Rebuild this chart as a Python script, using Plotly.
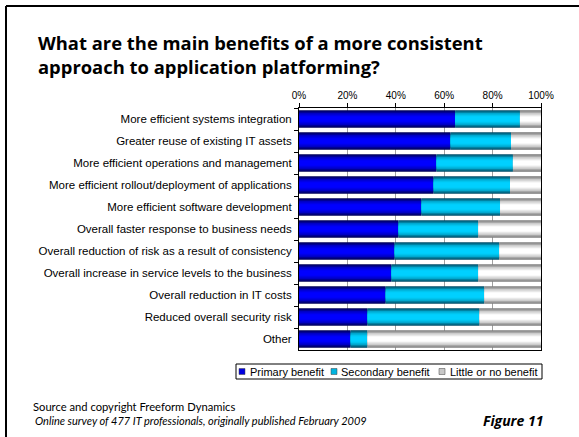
import plotly.graph_objects as go

categories = [
    "More efficient systems integration",
    "Greater reuse of existing IT assets",
    "More efficient operations and management",
    "More efficient rollout/deployment of applications",
    "More efficient software development",
    "Overall faster response to business needs",
    "Overall reduction of risk as a result of consistency",
    "Overall increase in service levels to the business",
    "Overall reduction in IT costs",
    "Reduced overall security risk",
    "Other",
]
primary = [64.5, 62.6, 56.8, 55.6, 50.6, 41.1, 39.5, 38.2, 35.8, 28.3, 21.3]
secondary = [26.8, 25.0, 31.6, 31.6, 32.5, 33.0, 43.3, 35.9, 40.8, 46.3, 7.0]
little = [8.7, 12.4, 11.6, 12.8, 16.9, 25.9, 17.2, 25.9, 23.4, 25.4, 71.7]
series_names = ["Primary benefit", "Secondary benefit", "Little or no benefit"]
tick_vals = [0, 20, 40, 60, 80, 100]

# gradient layers (outer -> inner) per series
grad = [
    ["#00005A", "#000096", "#0000C4", "#0000E8", "#0000FF"],
    ["#004E6A", "#0082A2", "#00A8D0", "#00C4EE", "#00D0FF"],
    ["#808080", "#A8A8A8", "#CCCCCC", "#E8E8E8", "#FFFFFF"],
]
widths = [0.8, 0.68, 0.54, 0.4, 0.24]

W, H = 579, 437
L, R, T, B = 299, 541, 108, 350
def px(x):
    return (x - L) / (R - L)
def py(y):
    return (B - y) / (B - T)

fig = go.Figure()
values = [primary, secondary, little]
bases = [
    [0] * len(categories),
    primary,
    [p + s for p, s in zip(primary, secondary)],
]
for si, (vals, base) in enumerate(zip(values, bases)):
    for li, (w, c) in enumerate(zip(widths, grad[si])):
        fig.add_trace(go.Bar(
            y=categories, x=vals, base=base, orientation="h",
            width=w, marker=dict(color=c, line=dict(width=0)),
            name=series_names[si], showlegend=False,
        ))

fig.update_layout(
    width=W, height=H,
    margin=dict(l=L, r=W - R, t=T, b=H - B, pad=0),
    barmode="overlay",
    paper_bgcolor="white", plot_bgcolor="white",
    font=dict(family="Liberation Sans, Arial", size=11, color="black"),
    xaxis=dict(
        side="top", range=[0, 100], tickvals=tick_vals,
        ticktext=[f"{v}%" for v in tick_vals],
        showgrid=True, gridcolor="#A0A0A0", gridwidth=1,
        showline=True, linecolor="black", linewidth=1, mirror=True,
        ticks="outside", ticklen=4, tickcolor="black",
        tickfont=dict(size=10), zeroline=False, fixedrange=True,
    ),
    yaxis=dict(
        categoryorder="array", categoryarray=categories, autorange="reversed",
        showline=True, linecolor="black", linewidth=1, mirror=True,
        ticks="outside", ticklen=4, tickcolor="black", tickson="boundaries",
        ticklabelstandoff=4,
        tickfont=dict(size=11.5), showgrid=False,
    ),
)

shapes = []
# frame
shapes.append(dict(type="line", xref="paper", yref="paper",
                   x0=px(6), x1=px(W + 5), y0=py(6), y1=py(6),
                   line=dict(color="black", width=2)))
shapes.append(dict(type="line", xref="paper", yref="paper",
                   x0=px(6), x1=px(6), y0=py(6), y1=py(H + 5),
                   line=dict(color="black", width=2)))
# legend box
shapes.append(dict(type="rect", xref="paper", yref="paper",
                   x0=px(236), x1=px(542), y0=py(364), y1=py(379),
                   line=dict(color="black", width=1), fillcolor="white"))
legend_sq = [239, 331, 439]
legend_tx = [248, 339, 448]
sq_colors = ["#0000E0", "#00B4E0", "#C8C8C8"]
annotations = []
for sx, tx, col, name in zip(legend_sq, legend_tx, sq_colors, series_names):
    shapes.append(dict(type="rect", xref="paper", yref="paper",
                       x0=px(sx), x1=px(sx + 6), y0=py(368.5), y1=py(374.5),
                       line=dict(color="#404040", width=0.5), fillcolor=col))
    annotations.append(dict(xref="paper", yref="paper", x=px(tx), y=py(371.5),
                            text=name, showarrow=False, xanchor="left", yanchor="middle",
                            font=dict(size=11, family="Liberation Sans, Arial")))

annotations.append(dict(
    xref="paper", yref="paper", x=px(36), y=py(54), xanchor="left", yanchor="middle",
    align="left", showarrow=False,
    text="<b>What are the main benefits of a more consistent<br>approach to application platforming?</b>",
    font=dict(family="Open Sans", size=18.4, color="black")))
annotations.append(dict(
    xref="paper", yref="paper", x=px(31), y=py(406), xanchor="left", yanchor="middle",
    showarrow=False, text="Source and copyright Freeform Dynamics",
    font=dict(family="Lato", size=11.2, color="black")))
annotations.append(dict(
    xref="paper", yref="paper", x=px(33), y=py(420), xanchor="left", yanchor="middle",
    showarrow=False, text="<i>Online survey of 477 IT professionals, originally published February 2009</i>",
    font=dict(family="Lato", size=11, color="black")))
annotations.append(dict(
    xref="paper", yref="paper", x=px(545), y=py(420), xanchor="right", yanchor="middle",
    showarrow=False, text="<b><i>Figure 11</i></b>",
    font=dict(family="Open Sans", size=14, color="black")))

fig.update_layout(shapes=shapes, annotations=annotations)
fig.write_html("out.html")
